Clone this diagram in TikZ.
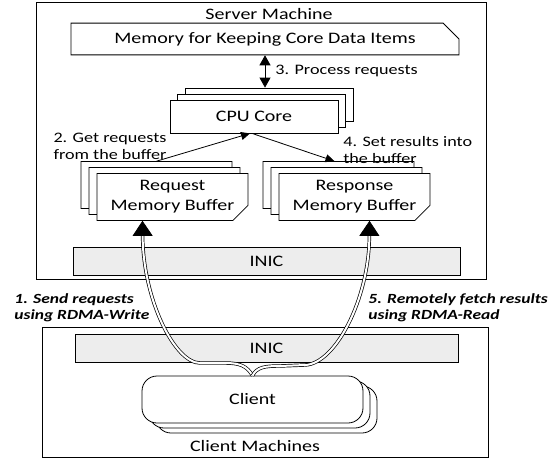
\documentclass[tikz,border=0pt]{standalone}
\usepackage{fontspec}
\setmainfont{Carlito}[FakeStretch=1.25]
\usetikzlibrary{shapes.misc}
\usetikzlibrary{shadows}
\usetikzlibrary{positioning, arrows.meta}

\begin{document}
\begin{tikzpicture}[x=1pt, y=-1pt, line width=0.8pt, font=\fontsize{16}{20}\selectfont]
        % Define styles for shapes
        \tikzstyle{machine} = [draw, rectangle, inner sep=0pt]
        \tikzstyle{inic} = [draw, rectangle, fill=black!7, inner sep=0pt]
        \tikzstyle{membox} = [draw, chamfered rectangle, chamfered rectangle corners=north east,
            chamfered rectangle xsep=13pt, chamfered rectangle ysep=9pt, inner sep=0pt,
            minimum width=388pt, minimum height=29pt]
        \tikzstyle{corebox} = [draw, rectangle, fill=white, inner sep=0pt,
            minimum width=168pt, minimum height=33pt,
            copy shadow={shadow xshift=15pt, shadow yshift=12pt, line width=0.8pt},
            copy shadow={shadow xshift=7.5pt, shadow yshift=6pt, line width=0.8pt}]
        \tikzstyle{bufbox} = [draw, chamfered rectangle, chamfered rectangle corners=south east,
            chamfered rectangle xsep=8pt, chamfered rectangle ysep=7pt, fill=white,
            inner sep=0pt, minimum width=151pt, minimum height=44pt, align=center,
            copy shadow={shadow xshift=-16pt, shadow yshift=12pt, line width=0.8pt},
            copy shadow={shadow xshift=-8pt, shadow yshift=6pt, line width=0.8pt},
            path picture={\draw[line width=0.6pt] ([xshift=-8pt]path picture bounding box.south east)
                -- ++(1.5pt,5.5pt) -- ++(6.5pt,1.5pt);}]
        \tikzstyle{clientbox} = [draw, rectangle, rounded corners=15pt, fill=white,
            minimum width=221pt, minimum height=47pt,
            copy shadow={shadow xshift=14pt, shadow yshift=-10pt, line width=0.8pt},
            copy shadow={shadow xshift=7pt, shadow yshift=-5pt, line width=0.8pt}]
        \tikzstyle{steplabel} = [font=\fontsize{14.5}{17}\selectfont, inner sep=0pt]
        \tikzstyle{rdmalabel} = [font=\fontsize{14}{16.5}\selectfont\bfseries\itshape,
            align=left, anchor=west, inner sep=0pt]
        \tikzstyle{thinarrow} = [-{Triangle[length=9pt,width=8pt]}]
        \tikzstyle{memarrow} = [{Triangle[length=10pt,width=11pt]}-{Triangle[length=10pt,width=11pt]}]
        \tikzstyle{rdma} = [double, double distance=2pt, line width=0.7pt,
            -{Triangle[length=15pt,width=20pt]}]
        \useasboundingbox (0,0) rectangle (555,458);
        % Server side
        \node[machine, minimum width=450pt, minimum height=277pt] (server) at (261,140.5) {};
        \node (servertitle) at (269,14) {Server Machine};
        \node[membox] (memory) at (265,39) {Memory for Keeping Core Data Items};
        \node[corebox] (cpu) at (254,116.5) {CPU Core};
        \node[bufbox] (reqbuf) at (172.5,197) {Request\\Memory Buffer};
        \node[bufbox] (respbuf) at (354.5,197) {Response\\Memory Buffer};
        \node[inic, minimum width=387pt, minimum height=28pt] (serverinic) at (266.5,261) {INIC};
        % Client side
        \node[machine, minimum width=446pt, minimum height=130pt] (clients) at (265,392) {};
        \node[inic, minimum width=383pt, minimum height=28pt] (clientinic) at (266.5,348) {INIC};
        \node[clientbox] (client) at (252.5,399.5) {Client};
        \node (clienttitle) at (255,446) {Client Machines};
        % Labels
        \node[steplabel, align=center] (getlbl) at (110,146) {2. Get requests\\from the buffer};
        \node[steplabel, align=left, anchor=west] (setlbl) at (343,150) {4. Set results into\\the buffer};
        \node[rdmalabel] (sendlbl) at (14,308) {1. Send requests\\using RDMA-Write};
        \node[rdmalabel] (fetchlbl) at (368,308) {5. Remotely fetch results\\using RDMA-Read};

        % Draw arrows
        \coordinate (cputop) at ([yshift=12pt]cpu.north);
        \draw[memarrow] (memory.south) -- (memory.south |- cputop)
            node[steplabel, midway, right=10pt] {3. Process requests};
        \draw[thinarrow] ([xshift=-16pt,yshift=12pt]reqbuf.north) -- ([xshift=-4pt]cpu.south);
        \draw[thinarrow] ([xshift=-2pt]cpu.south) -- ([xshift=-20pt,yshift=12pt]respbuf.north);
        \draw[rdma] (client.north) .. controls (247,366) and (240,363) .. (225,363) -- (200,363)
            .. controls (175,363) and (143,300) .. ([xshift=-30pt]reqbuf.south);
        \draw[rdma] (client.north) .. controls (257,367) and (265,366) .. (280,366) -- (305,365)
            .. controls (335,364) and (369,300) .. ([xshift=15pt]respbuf.south);
    \end{tikzpicture}
\end{document}
